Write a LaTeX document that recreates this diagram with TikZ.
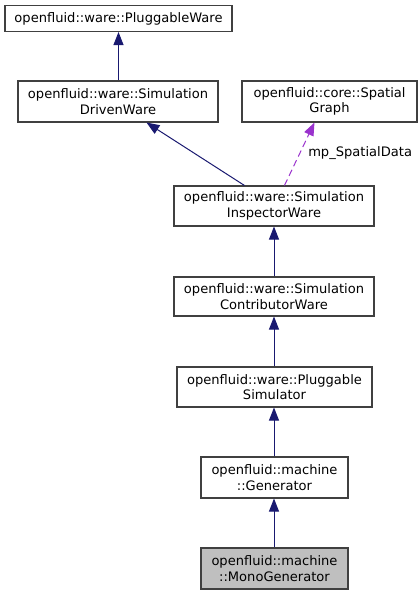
\documentclass[tikz,border=0pt]{standalone}
\usepackage{fontspec}
\setmainfont{DejaVu Sans}
\usetikzlibrary{arrows.meta,calc}
\definecolor{edgeblue}{HTML}{191970}
\definecolor{edgepurple}{HTML}{9A32CD}
\definecolor{boxline}{HTML}{404040}
\definecolor{focusfill}{HTML}{BFBFBF}
\tikzset{
  cls/.style={draw=boxline, line width=0.8pt, fill=white, inner sep=0pt, align=center,
    font=\fontsize{9.8pt}{11.5pt}\selectfont},
  focus/.style={cls, fill=focusfill},
  inh/.style={draw=edgeblue, line width=0.75pt, -{Triangle[length=9.75pt,width=7.5pt]}},
  use/.style={draw=edgepurple, line width=0.75pt, dashed, dash pattern=on 5pt off 3pt, -{Triangle[length=9.75pt,width=7.5pt]}},
}
\begin{document}
\begin{tikzpicture}[x=0.75pt,y=-0.75pt]
\useasboundingbox (0,0) rectangle (419,595);
\node[cls, minimum width=227*0.75pt, minimum height=26*0.75pt] (b1) at (118.5,18.5) {openfluid::ware::PluggableWare};
\node[cls, minimum width=200*0.75pt, minimum height=41*0.75pt] (b2) at (118,101.5) {openfluid::ware::Simulation\\DrivenWare};
\node[cls, minimum width=175*0.75pt, minimum height=41*0.75pt] (b3) at (329.5,101.5) {openfluid::core::Spatial\\Graph};
\node[cls, minimum width=200*0.75pt, minimum height=40*0.75pt] (b4) at (274,206) {openfluid::ware::Simulation\\InspectorWare};
\node[cls, minimum width=200*0.75pt, minimum height=39*0.75pt] (b5) at (274,296.5) {openfluid::ware::Simulation\\ContributorWare};
\node[cls, minimum width=195*0.75pt, minimum height=40*0.75pt] (b6) at (274.5,387) {openfluid::ware::Pluggable\\Simulator};
\node[cls, minimum width=147*0.75pt, minimum height=41*0.75pt] (b7) at (274.5,477.5) {openfluid::machine\\::Generator};
\node[focus, minimum width=147*0.75pt, minimum height=41*0.75pt] (b8) at (274.5,568.5) {openfluid::machine\\::MonoGenerator};
\draw[inh] (b2.north -| b1.south) -- (b1.south);
\draw[inh] ($(b4.north west)+(71,0)$) -- ($(b2.south west)+(129,0)$);
\draw[use] ($(b4.north west)+(111,0)$) -- ($(b3.south west)+(73,0)$);
\node[anchor=west, inner sep=0pt, font=\fontsize{9.8pt}{11.5pt}\selectfont] (lbl) at (308,153) {mp\_SpatialData};
\draw[inh] (b5.north) -- (b4.south);
\draw[inh] (b6.north -| b5.south) -- (b5.south);
\draw[inh] (b7.north -| b5.south) -- (b6.south -| b5.south);
\draw[inh] (b8.north -| b5.south) -- (b7.south -| b5.south);
\end{tikzpicture}
\end{document}
